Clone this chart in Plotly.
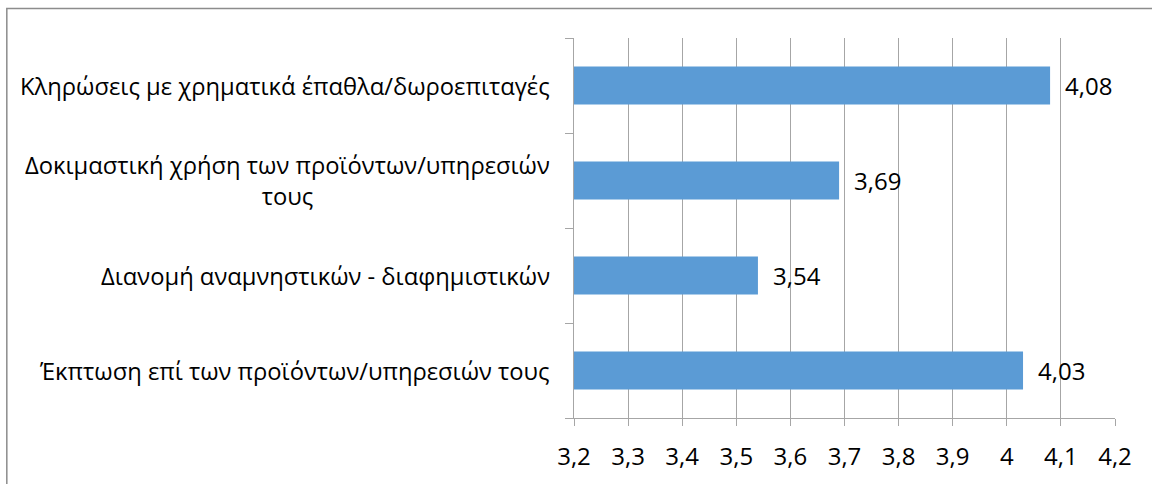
import plotly.graph_objects as go

categories = [
    "Κληρώσεις με χρηματικά έπαθλα/δωροεπιταγές",
    "Δοκιμαστική χρήση των προϊόντων/υπηρεσιών<br>τους",
    "Διανομή αναμνηστικών - διαφημιστικών",
    "Έκπτωση επί των προϊόντων/υπηρεσιών τους",
]
values = [4.08, 3.69, 3.54, 4.03]
value_labels = ["4,08", "3,69", "3,54", "4,03"]
tick_vals = [3.2, 3.3, 3.4, 3.5, 3.6, 3.7, 3.8, 3.9, 4.0, 4.1, 4.2]
tick_text = ["3,2", "3,3", "3,4", "3,5", "3,6", "3,7", "3,8", "3,9", "4", "4,1", "4,2"]

FONT = "Open Sans"
FS = 24
FS_CAT = 23.75
GRID = "#a6a6a6"
BAR = "#5b9bd5"

fig = go.Figure()
fig.add_trace(go.Bar(
    y=list(range(len(categories))),
    x=[v - 3.2 for v in values],
    base=3.2,
    orientation="h",
    width=0.4,
    marker=dict(color=BAR, line=dict(width=0)),
    hoverinfo="skip",
))

annotations = []
for i, (c, v, lab) in enumerate(zip(categories, values, value_labels)):
    annotations.append(dict(
        x=0, xref="paper", y=i, yref="y", text=c, showarrow=False,
        xanchor="right", yanchor="middle", align="center", xshift=-22,
        font=dict(family=FONT, size=FS_CAT, color="#000000"),
    ))
    annotations.append(dict(
        x=v, xref="x", y=i, yref="y", text=lab, showarrow=False,
        xanchor="left", yanchor="middle", xshift=13,
        font=dict(family=FONT, size=FS, color="#000000"),
    ))

fig.update_layout(
    width=1152, height=484, autosize=False,
    margin=dict(l=574, r=37, t=38, b=61),
    paper_bgcolor="white", plot_bgcolor="white",
    showlegend=False,
    annotations=annotations,
    font=dict(family=FONT, size=FS, color="#000000"),
    shapes=[dict(
        type="rect", xref="paper", yref="paper",
        x0=-1.0484, x1=1.2, y0=-0.3, y1=1.0774,
        line=dict(color="#8c8c8c", width=1.5), layer="below",
    )],
)
fig.update_xaxes(
    range=[3.2, 4.2], tickvals=tick_vals, ticktext=tick_text,
    showgrid=True, gridcolor=GRID, gridwidth=1,
    showline=True, linecolor=GRID, linewidth=1,
    ticks="outside", ticklen=7, tickcolor=GRID,
    ticklabelstandoff=10,
    tickfont=dict(family=FONT, size=FS, color="#000000"),
    zeroline=False, fixedrange=True,
)
fig.update_yaxes(
    range=[3.5, -0.5], tickvals=[-0.5, 0.5, 1.5, 2.5, 3.5], ticktext=[""] * 5,
    showgrid=False, showline=True, linecolor=GRID, linewidth=1,
    ticks="outside", ticklen=8, tickcolor=GRID,
    zeroline=False, fixedrange=True,
)

fig.write_html("out.html")
